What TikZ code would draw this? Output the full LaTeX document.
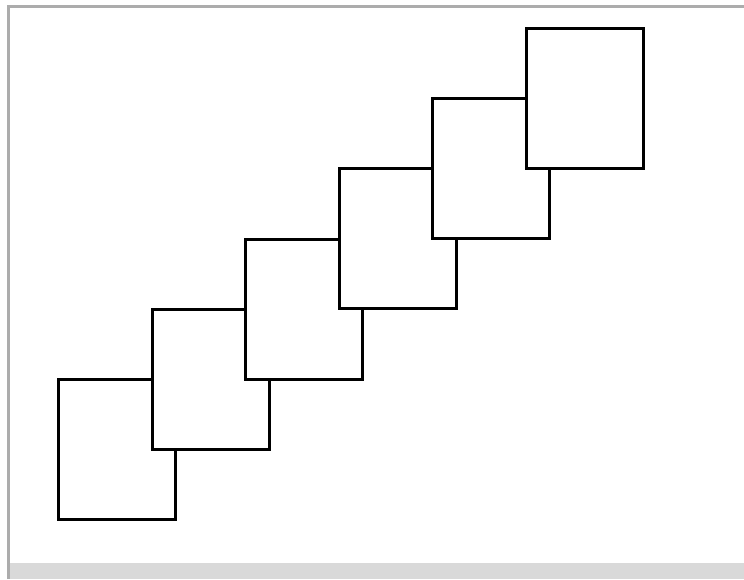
\documentclass[tikz,border=0pt]{standalone}
\begin{document}
\begin{tikzpicture}[x=1pt,y=-1pt]
  \tikzset{card/.style={draw, line width=3pt, fill=white, minimum width=117pt, minimum height=140pt, inner sep=0pt, anchor=north west}}
  \useasboundingbox (0,0) rectangle (744,579);

  % Window frame
  \fill[gray!30] (10,563) rectangle (744,579);
  \draw[gray!65, line width=3pt] (8.5,579) -- (8.5,6.5) -- (744,6.5);

  % Staircase of boxes, later ones on top
  \foreach \i in {0,1,2,3,4,5} {
    \node[card] (box\i) at ({57+93.5*\i}, {378-70.2*\i}) {};
  }
\end{tikzpicture}
\end{document}
